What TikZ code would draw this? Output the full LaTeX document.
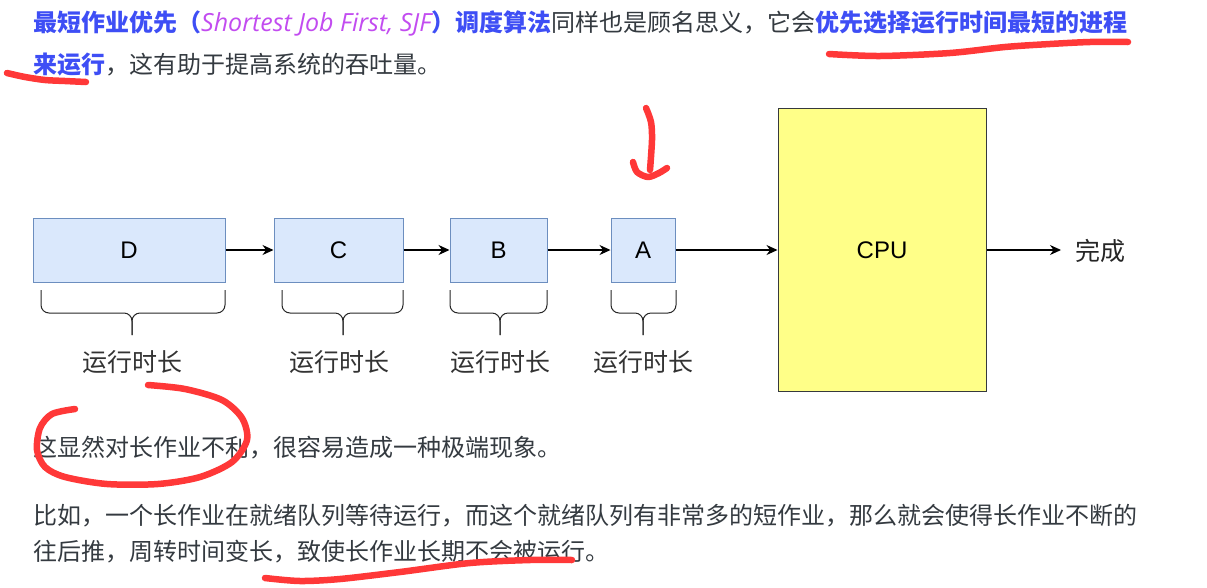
\documentclass[tikz,border=0pt]{standalone}
\usepackage{fontspec}
\setmainfont{Noto Sans CJK SC}
\newfontfamily\latinsf{Liberation Sans}
\newfontfamily\itlat{Open Sans}
\usetikzlibrary{arrows.meta}
\definecolor{txtgray}{RGB}{52,58,64}
\definecolor{hlblue}{RGB}{62,78,245}
\definecolor{hlpink}{RGB}{194,76,240}
\definecolor{boxfill}{HTML}{DAE8FC}
\definecolor{boxline}{HTML}{6C8EBF}
\definecolor{cpufill}{HTML}{FFFF88}
\definecolor{cpuline}{HTML}{36393D}
\definecolor{penred}{RGB}{255,56,56}
\newcommand{\hb}[1]{{\bfseries\color{hlblue}#1}}
\begin{document}
\begin{tikzpicture}[x=1pt,y=-1pt,
  para/.style={anchor=base west, inner sep=0, text=txtgray, font=\fontsize{24}{28}\selectfont},
  jobbox/.style={draw=boxline, fill=boxfill, line width=1pt, minimum height=64pt, inner sep=0,
     font=\latinsf\fontsize{24}{28}\selectfont},
  cpubox/.style={draw=cpuline, fill=cpufill, line width=1pt, minimum width=208pt, minimum height=283pt,
     inner sep=0, font=\latinsf\fontsize{24}{28}\selectfont},
  flow/.style={line width=1.2pt, -{Stealth[length=11pt,width=10pt]}},
  bracestyle/.style={line width=1pt, rounded corners=8pt, draw=black!85},
  durlabel/.style={inner sep=0, text=black!80, font=\fontsize{25}{28}\selectfont},
  pen/.style={draw=penred, line width=6.5pt, line cap=round, line join=round}
]
\path[use as bounding box] (0,0) rectangle (1207,587);

% paragraph text
\node[para] (l1) at (33,31) {\hb{最短作业优先（}{\itlat\itshape\fontsize{25}{28}\selectfont\color{hlpink}Shortest Job First, SJF}\hb{）调度算法}同样也是顾名思义，它会\hb{优先选择运行时间最短的进程}};
\node[para] (l2) at (33,73) {\hb{来运行}，这有助于提高系统的吞吐量。};
\node[para] (l3) at (33,456) {这显然对长作业不利，很容易造成一种极端现象。};
\node[para] (l4) at (33,524) {比如，一个长作业在就绪队列等待运行，而这个就绪队列有非常多的短作业，那么就会使得长作业不断的};
\node[para] (l5) at (33,560) {往后推，周转时间变长，致使长作业长期不会被运行。};

% job boxes
\node[jobbox, minimum width=192pt] (D) at (129,250) {D};
\node[jobbox, minimum width=129pt] (C) at (338.5,250) {C};
\node[jobbox, minimum width=97pt] (B) at (498.5,250) {B};
\node[jobbox, minimum width=64pt] (A) at (643,250) {A};
\node[cpubox] (CPU) at (882,250) {CPU};
\node[inner sep=0, text=black!85, font=\fontsize{25}{28}\selectfont, anchor=west] (done) at (1075,251) {完成};

\draw[flow] (D) -- (C);
\draw[flow] (C) -- (B);
\draw[flow] (B) -- (A);
\draw[flow] (A) -- (CPU);
\draw[flow, shorten >=14pt] (CPU.east) -- (CPU.east -| done.west);

% braces and labels
\foreach \xa/\xb/\xm/\lx/\nm in {41/225/132/132/d, 282/403/343/339/c, 450/547/500/500/b, 611/676/643/643/a}{
  \draw[bracestyle] (\xa,290) -- (\xa,313) -- (\xm,313) -- (\xm,335);
  \draw[bracestyle] (\xb,290) -- (\xb,313) -- (\xm,313) -- (\xm,335);
  \node[durlabel] (lab\nm) at (\lx,362) {运行时长};
}

% red hand annotations
\draw[pen] plot[smooth] coordinates {(7,73) (25,77) (45,80) (65,81) (86,82)};
\draw[pen] plot[smooth] coordinates {(829,54) (880,56) (950,53) (1005,47) (1050,44) (1090,42) (1128,42)};
\draw[pen] plot[smooth] coordinates {(646,108) (651,122) (652,140) (650,170)};
\draw[pen] plot[smooth] coordinates {(633,162) (637,172) (648,177) (659,173) (667,168)};
\draw[pen] plot[smooth] coordinates {(75,409) (52,414) (40,428) (37,450) (45,467) (65,477) (107,484) (158,484) (200,477) (232,462) (247,440) (242,418) (222,400) (185,389) (148,385)};
\draw[pen] plot[smooth] coordinates {(265,578) (300,581) (340,579) (400,572) (470,563) (530,560) (572,560)};
\end{tikzpicture}
\end{document}
